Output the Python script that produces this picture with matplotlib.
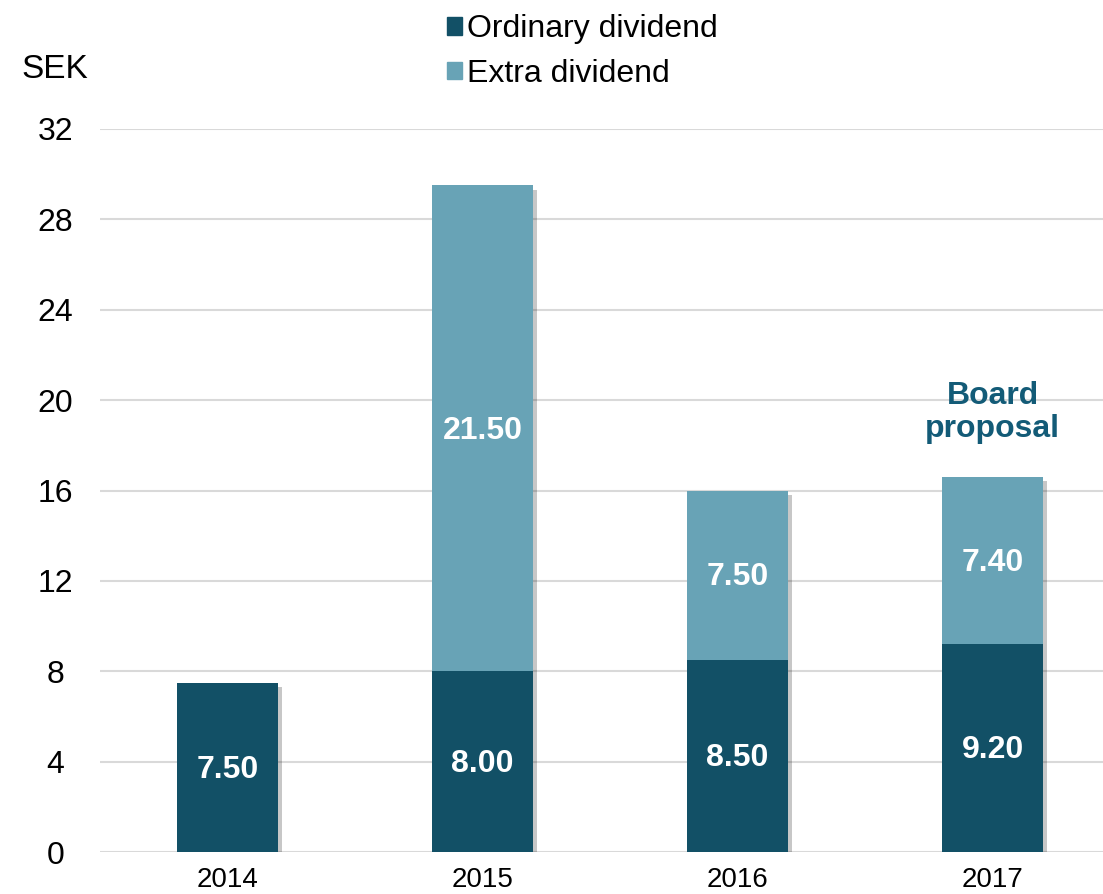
import matplotlib
matplotlib.use("Agg")
import matplotlib.pyplot as plt
import matplotlib.patheffects as pe
from matplotlib.patches import Patch
import numpy as np

years = ["2014", "2015", "2016", "2017"]
ordinary = [7.50, 8.00, 8.50, 9.20]
extra = [0.0, 21.50, 7.50, 7.40]
yticks = [0, 4, 8, 12, 16, 20, 24, 28, 32]

DARK = "#125066"
LIGHT = "#68a3b6"
plt.rcParams["font.family"] = ["Liberation Sans", "DejaVu Sans"]

fig = plt.figure(figsize=(11.03, 8.94), dpi=100)
ax = fig.add_axes([100 / 1103, 42 / 894, 1003 / 1103, (852 - 129) / 894])

x = np.arange(len(years))
totals = [o + e for o, e in zip(ordinary, extra)]
# shadow drawn once per full stack, under the segments
shade = ax.bar(x, totals, width=0.396, color=DARK, zorder=2)
for r in shade:
    r.set_path_effects([pe.SimplePatchShadow(offset=(3, -3), shadow_rgbFace="#000000", alpha=0.22),
                        pe.Normal()])
ax.bar(x, ordinary, width=0.396, color=DARK, zorder=3)
ax.bar(x, extra, width=0.396, bottom=ordinary, color=LIGHT, zorder=3)

for xi, o, e in zip(x, ordinary, extra):
    ax.text(xi, o / 2 - 0.1, f"{o:.2f}", ha="center", va="center", color="white",
            fontsize=23, fontweight="bold", zorder=5)
    if e > 0:
        ax.text(xi, o + e / 2 - 0.1, f"{e:.2f}", ha="center", va="center", color="white",
                fontsize=23, fontweight="bold", zorder=5)

ax.text(x[-1], 19.45, "Board\nproposal", ha="center", va="center", color="#135b77",
        fontsize=23, fontweight="bold", linespacing=1.12, zorder=5)

ax.set_xlim(-0.5, 3.433)
ax.set_ylim(0, 32)
ax.set_yticks(yticks)
ax.set_yticklabels([str(t) for t in yticks], fontsize=23)
ax.set_xticks(x)
ax.set_xticklabels(years, fontsize=20)
ax.tick_params(axis="both", length=0)
ax.tick_params(axis="y", pad=32)
ax.tick_params(axis="x", pad=11)
for lab in ax.get_yticklabels():
    lab.set_horizontalalignment("center")
for s in ax.spines.values():
    s.set_visible(False)
ax.grid(axis="y", color="#d9d9d9", linewidth=1.5, zorder=0)
ax.set_axisbelow(True)

fig.text(21 / 1103, 1 - 70 / 894, "SEK", fontsize=24, va="center", ha="left")

handles = [Patch(color=DARK, label="Ordinary dividend"),
           Patch(color=LIGHT, label="Extra dividend")]
fig.legend(handles=handles, loc="upper left", bbox_to_anchor=(425 / 1103, 1 + 8 / 894),
           frameon=False, fontsize=23, handlelength=0.45, handleheight=0.45,
           handletextpad=0.18, labelspacing=0.45, borderpad=0.2)

fig.savefig("out.png", dpi=100)
